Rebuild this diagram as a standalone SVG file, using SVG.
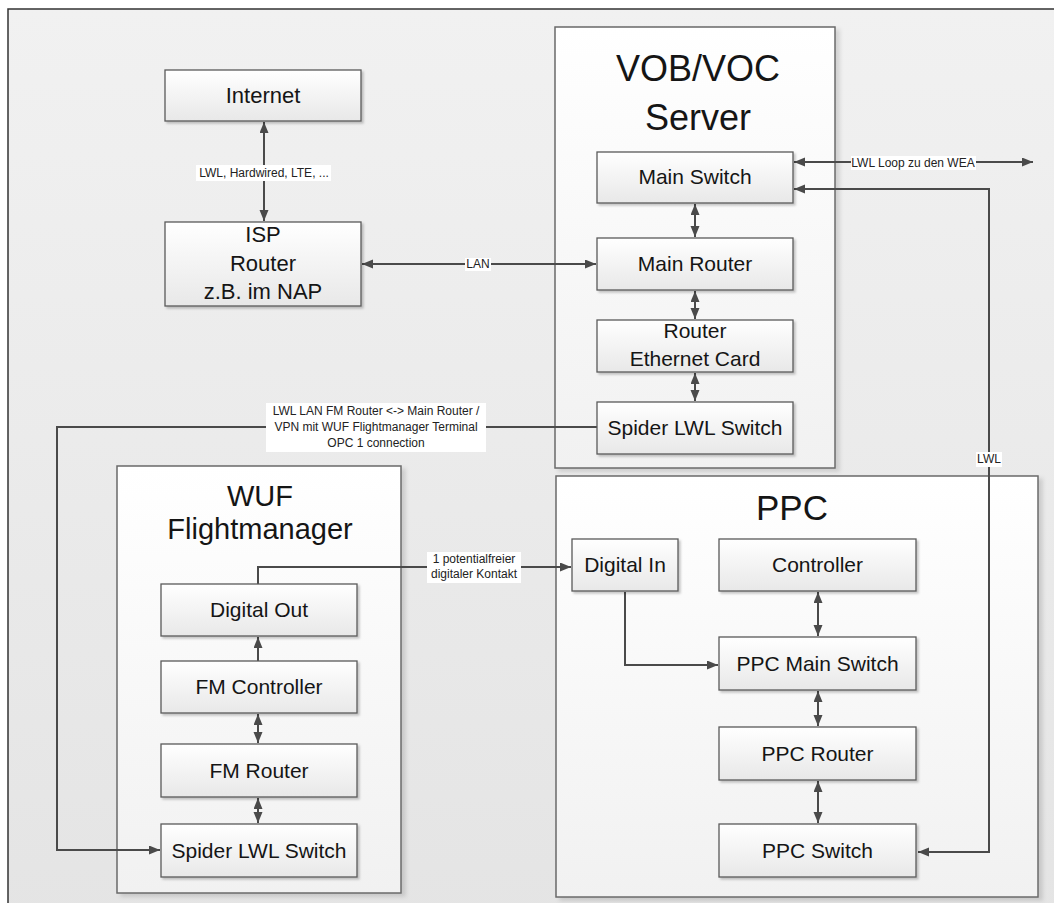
<svg xmlns="http://www.w3.org/2000/svg" width="1054" height="903" viewBox="0 0 1054 903">
<defs>
  <linearGradient id="bgG" x1="0" y1="0" x2="0" y2="1">
    <stop offset="0" stop-color="#f1f1f1"/>
    <stop offset="1" stop-color="#e3e3e3"/>
  </linearGradient>
  <linearGradient id="boxG" x1="0" y1="0" x2="0" y2="1">
    <stop offset="0" stop-color="#ffffff"/>
    <stop offset="1" stop-color="#e8e8e8"/>
  </linearGradient>
  <linearGradient id="contG" x1="0" y1="0" x2="0" y2="1">
    <stop offset="0" stop-color="#ffffff"/>
    <stop offset="1" stop-color="#f1f1f1"/>
  </linearGradient>
  <filter id="sh" x="-10%" y="-10%" width="130%" height="140%">
    <feDropShadow dx="2" dy="2" stdDeviation="1.2" flood-color="#000" flood-opacity="0.22"/>
  </filter>
  <filter id="sh2" x="-5%" y="-5%" width="115%" height="115%">
    <feDropShadow dx="4" dy="3" stdDeviation="2" flood-color="#000" flood-opacity="0.13"/>
  </filter>
  <marker id="ah" markerUnits="userSpaceOnUse" markerWidth="12" markerHeight="10" refX="11" refY="4.5" orient="auto-start-reverse">
    <path d="M0,0 L11,4.5 L0,9 z" fill="#4a4a4a"/>
  </marker>
</defs>
<style>
  .cont { fill: url(#contG); stroke: #6a6a6a; stroke-width: 1.5; filter: url(#sh2); }
  .box { fill: url(#boxG); stroke: #5a5a5a; stroke-width: 1.3; filter: url(#sh); }
  .t { font-family: 'Liberation Sans', Arial, sans-serif; fill: #151515; text-anchor: middle; }
  .bt { font-size: 21px; }
  .bt2 { font-size: 22px; }
  .lbl { font-size: 12px; fill: #222; }
  .c { fill: none; stroke: #4a4a4a; stroke-width: 2; }
  .b2 { marker-start: url(#ah); marker-end: url(#ah); }
  .b1 { marker-end: url(#ah); }
  .lb { fill: #ffffff; }
</style>

<rect x="0" y="0" width="1054" height="903" fill="#ffffff"/>
<rect x="8" y="9" width="1100" height="1000" fill="url(#bgG)" stroke="#333" stroke-width="1.5"/>

<g id="vob-server">
  <rect class="cont" x="555" y="27" width="280" height="441"/>
  <text class="t" x="698" y="81" font-size="36">VOB/VOC</text>
  <text class="t" x="698" y="130" font-size="36">Server</text>
</g>
<g id="ppc">
  <rect class="cont" x="556" y="476" width="482" height="421"/>
  <text class="t" x="792" y="520" font-size="35">PPC</text>
</g>
<g id="wuf-flightmanager">
  <rect class="cont" x="117" y="466" width="284" height="427"/>
  <text class="t" x="260" y="506" font-size="29">WUF</text>
  <text class="t" x="260" y="539" font-size="29">Flightmanager</text>
</g>

<g id="connectors">
  <path class="c b2" d="M264,122 V221"/>
  <path class="c b2" d="M362,264 H596"/>
  <path class="c b2" d="M695,204 V237"/>
  <path class="c b2" d="M695,291 V319"/>
  <path class="c b2" d="M695,373 V401"/>
  <path class="c b2" d="M794,162 H1033"/>
  <path class="c b2" d="M794,189 H989 V852 H918"/>
  <path class="c b1" d="M597,427 H57 V850 H160"/>
  <path class="c b1" d="M258,584 V567 H571"/>
  <path class="c b1" d="M625,592 V665 H718"/>
  <path class="c b2" d="M818,592 V636"/>
  <path class="c b2" d="M818,691 V726"/>
  <path class="c b2" d="M818,781 V823"/>
  <path class="c b1" d="M258,661 V637"/>
  <path class="c b2" d="M258,714 V743"/>
  <path class="c b2" d="M258,798 V823"/>

  <rect class="lb" x="196" y="165" width="135" height="16"/>
  <text class="t lbl" x="264" y="177">LWL, Hardwired, LTE, ...</text>
  <rect class="lb" x="465" y="258" width="26" height="13"/>
  <text class="t lbl" x="478" y="268">LAN</text>
  <rect class="lb" x="851" y="156" width="125" height="14"/>
  <text class="t lbl" x="913" y="167">LWL Loop zu den WEA</text>
  <rect class="lb" x="976" y="452" width="26" height="15"/>
  <text class="t lbl" x="989" y="463">LWL</text>
  <rect class="lb" x="266" y="403" width="220" height="49"/>
  <text class="t lbl" x="376" y="415">LWL LAN FM Router &lt;-&gt; Main Router /</text>
  <text class="t lbl" x="376" y="431">VPN mit WUF Flightmanager Terminal</text>
  <text class="t lbl" x="376" y="447">OPC 1 connection</text>
  <rect class="lb" x="427" y="552" width="94" height="31"/>
  <text class="t lbl" x="474" y="563">1 potentialfreier</text>
  <text class="t lbl" x="474" y="578">digitaler Kontakt</text>
</g>

<g id="internet">
  <rect class="box" x="165" y="70" width="196" height="51"/>
  <text class="t bt2" x="263" y="103">Internet</text>
</g>
<g id="isp-router">
  <rect class="box" x="165" y="222" width="196" height="84"/>
  <text class="t bt2" x="263" y="242">ISP</text>
  <text class="t bt2" x="263" y="271">Router</text>
  <text class="t bt2" x="263" y="299">z.B. im NAP</text>
</g>
<g id="main-switch">
  <rect class="box" x="597" y="152" width="196" height="51"/>
  <text class="t bt" x="695" y="184">Main Switch</text>
</g>
<g id="main-router">
  <rect class="box" x="597" y="238" width="196" height="52"/>
  <text class="t bt" x="695" y="271">Main Router</text>
</g>
<g id="router-ethernet-card">
  <rect class="box" x="597" y="320" width="196" height="52"/>
  <text class="t bt" x="695" y="338">Router</text>
  <text class="t bt" x="695" y="366">Ethernet Card</text>
</g>
<g id="spider-vob">
  <rect class="box" x="597" y="402" width="196" height="52"/>
  <text class="t bt" x="695" y="435">Spider LWL Switch</text>
</g>
<g id="digital-in">
  <rect class="box" x="572" y="539" width="106" height="52"/>
  <text class="t bt" x="625" y="572">Digital In</text>
</g>
<g id="controller">
  <rect class="box" x="719" y="539" width="197" height="52"/>
  <text class="t bt" x="817.5" y="572">Controller</text>
</g>
<g id="ppc-main-switch">
  <rect class="box" x="719" y="637" width="197" height="53"/>
  <text class="t bt" x="817.5" y="671">PPC Main Switch</text>
</g>
<g id="ppc-router">
  <rect class="box" x="719" y="727" width="197" height="53"/>
  <text class="t bt" x="817.5" y="761">PPC Router</text>
</g>
<g id="ppc-switch">
  <rect class="box" x="719" y="824" width="197" height="53"/>
  <text class="t bt" x="817.5" y="858">PPC Switch</text>
</g>
<g id="digital-out">
  <rect class="box" x="161" y="584" width="196" height="52"/>
  <text class="t bt" x="259" y="617">Digital Out</text>
</g>
<g id="fm-controller">
  <rect class="box" x="161" y="661" width="196" height="52"/>
  <text class="t bt" x="259" y="694">FM Controller</text>
</g>
<g id="fm-router">
  <rect class="box" x="161" y="744" width="196" height="53"/>
  <text class="t bt" x="259" y="778">FM Router</text>
</g>
<g id="spider-wuf">
  <rect class="box" x="161" y="824" width="196" height="53"/>
  <text class="t bt" x="259" y="858">Spider LWL Switch</text>
</g>
</svg>
